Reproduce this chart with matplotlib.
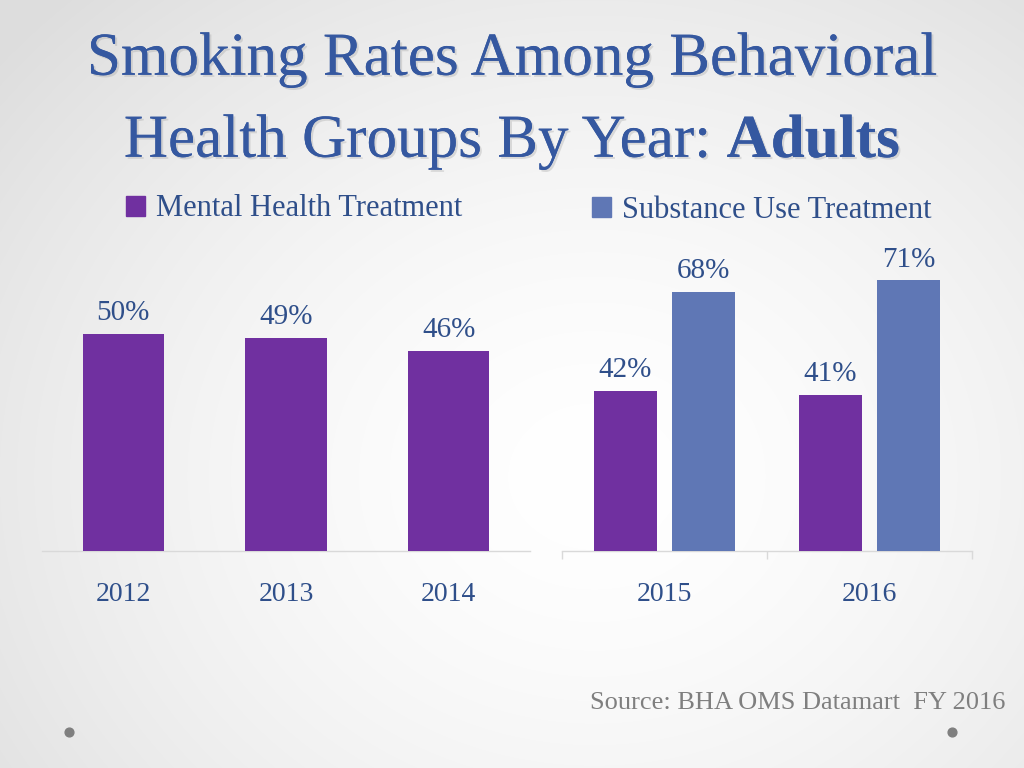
import numpy as np
import matplotlib
matplotlib.use("Agg")
import matplotlib.pyplot as plt
from matplotlib.patches import Patch
import matplotlib.patheffects as pe

# ---- data ----
years_left = ["2012", "2013", "2014"]
mh_left = [50, 49, 46]
years_right = ["2015", "2016"]
mh_right = [42, 41]
su_right = [68, 71]
series_names = ["Mental Health Treatment", "Substance Use Treatment"]
title_line1 = "Smoking Rates Among Behavioral"
title_line2_plain = "Health Groups By Year: "
title_line2_bold = "Adults"
source_text = "Source: BHA OMS Datamart  FY 2016"

PURPLE = "#7030A0"
BLUE = "#5F77B5"
TXT = "#2F4F8A"
TITLE = "#3558A0"
GRID = "#D9D9D9"
FONT = "Liberation Serif"

W, H = 1024, 768
fig = plt.figure(figsize=(W / 100, H / 100), dpi=100)

# background radial gradient
bg = fig.add_axes([0, 0, 1, 1], zorder=-10)
yy, xx = np.mgrid[0:H, 0:W]
cx, cy = 0.58 * W, 0.62 * H
r = np.sqrt(((xx - cx) / (0.75 * W)) ** 2 + ((yy - cy) / (0.85 * H)) ** 2)
r = np.clip(r, 0, 1)
inner, outer = 1.0, 0.87
val = inner + (outer - inner) * r ** 1.6
img = np.dstack([val, val, val])
bg.imshow(img, extent=[0, W, H, 0], aspect="auto")
bg.set_xlim(0, W)
bg.set_ylim(H, 0)
bg.axis("off")

def fx(px):
    return px / W

def fy(py):
    return 1 - py / H

# ---- left chart ----
base = 551
lscale = 4.34  # px per %
lymax = 62
axL = fig.add_axes([fx(42), fy(base), fx(530) - fx(42), lymax * lscale / H])
axL.patch.set_alpha(0)
xl = np.arange(len(years_left))
axL.bar(xl, mh_left, width=0.5, color=PURPLE, zorder=3)
axL.set_xlim(-0.5, len(years_left) - 0.5)
axL.set_ylim(0, lymax)
for x, v in zip(xl, mh_left):
    axL.annotate(f"{v}%", (x, v), xytext=(0, 10), textcoords="offset points",
                 ha="center", va="baseline", fontsize=21, color=TXT, family=FONT)

# ---- right chart ----
rscale = 3.81
rymax = 80
axR = fig.add_axes([fx(562), fy(base), fx(972) - fx(562), rymax * rscale / H])
axR.patch.set_alpha(0)
xr = np.arange(len(years_right))
bw = 0.307
off = 0.19
axR.bar(xr - off, mh_right, width=bw, color=PURPLE, zorder=3)
axR.bar(xr + off, su_right, width=bw, color=BLUE, zorder=3)
axR.set_xlim(-0.5, len(years_right) - 0.5)
axR.set_ylim(0, rymax)
for x, v in zip(xr - off, mh_right):
    axR.annotate(f"{v}%", (x, v), xytext=(0, 10), textcoords="offset points",
                 ha="center", va="baseline", fontsize=21, color=TXT, family=FONT)
for x, v in zip(xr + off, su_right):
    axR.annotate(f"{v}%", (x, v), xytext=(0, 10), textcoords="offset points",
                 ha="center", va="baseline", fontsize=21, color=TXT, family=FONT)

for ax, labels, n in [(axL, years_left, len(years_left)), (axR, years_right, len(years_right))]:
    for s in ["top", "left", "right"]:
        ax.spines[s].set_visible(False)
    ax.spines["bottom"].set_color(GRID)
    ax.spines["bottom"].set_linewidth(1.0)
    ax.set_yticks([])
    ax.set_xticks(np.arange(n))
    ax.set_xticklabels(labels, fontsize=20, color=TXT, family=FONT)
    ax.tick_params(axis="x", which="major", length=0, pad=22)

axR.set_xticks(np.arange(-0.5, len(years_right)), minor=True)
axR.tick_params(axis="x", which="minor", length=6, color=GRID, width=1.0, direction="out")

# ---- legends ----
legL = axL.legend(handles=[Patch(color=PURPLE, label=series_names[0])],
                  loc="center left", bbox_to_anchor=(fx(126), fy(209)),
                  bbox_transform=fig.transFigure, frameon=False,
                  handlelength=0.62, handleheight=0.62, handletextpad=0.35,
                  borderpad=0, borderaxespad=0,
                  prop={"family": FONT, "size": 22})
for t in legL.get_texts():
    t.set_color(TXT)
legR = axR.legend(handles=[Patch(color=BLUE, label=series_names[1])],
                  loc="center left", bbox_to_anchor=(fx(592), fy(210)),
                  bbox_transform=fig.transFigure, frameon=False,
                  handlelength=0.62, handleheight=0.62, handletextpad=0.35,
                  borderpad=0, borderaxespad=0,
                  prop={"family": FONT, "size": 22})
for t in legR.get_texts():
    t.set_color(TXT)

# ---- title ----
shadow = [pe.withSimplePatchShadow(offset=(1.5, -1.5), shadow_rgbFace="#9a9a9a", alpha=0.3), pe.Normal()]
fig.text(0.5, fy(60), title_line1, ha="center", va="center", fontsize=44,
         color=TITLE, family=FONT, path_effects=shadow)

# compose line 2 with a bold part
renderer = fig.canvas.get_renderer()
p1 = fig.text(0, fy(142), title_line2_plain, ha="left", va="center", fontsize=44,
              color=TITLE, family=FONT, path_effects=shadow)
p2 = fig.text(0, fy(142), title_line2_bold, ha="left", va="center", fontsize=44,
              color=TITLE, family=FONT, fontweight="bold", path_effects=shadow)
w1 = p1.get_window_extent(renderer).width
w2 = p2.get_window_extent(renderer).width
start = (W - (w1 + w2)) / 2
p1.set_x(start / W)
p2.set_x((start + w1) / W)

# ---- source & dots ----
fig.text(fx(1005), fy(703), source_text, ha="right", va="center", fontsize=19,
         color="#7F7F7F", family=FONT)
bg.scatter([69, 952], [732, 732], s=40, color="#7F7F7F", zorder=5)

fig.savefig("out.png", dpi=100)
